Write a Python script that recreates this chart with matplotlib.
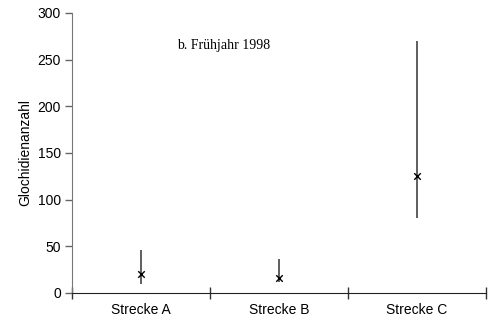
import numpy as np
import matplotlib
matplotlib.use("Agg")
import matplotlib.pyplot as plt

# data
strecken = ["Strecke A", "Strecke B", "Strecke C"]
mittel = [20, 16, 125]
minimum = [10, 12, 80]
maximum = [46, 36, 270]

params = {"font.family": "Liberation Sans", "font.size": 10}
matplotlib.rcParams.update(params)

fig = plt.figure(figsize=(4.93, 3.24), dpi=100)
ax = fig.add_axes([0.146, 0.096, 0.84, 0.864])

x = np.arange(len(strecken))
ax.vlines(x, minimum, maximum, colors="#333333", linewidth=1.1)
ax.scatter(x, mittel, marker="x", s=22, color="black", linewidths=1.0, zorder=3)

ax.set_xlim(-0.5, 2.5)
ax.set_ylim(0, 300)
ax.set_yticks(np.arange(0, 301, 50))
ax.set_ylabel("Glochidienanzahl", fontsize=10)

# category ticks sit between the groups, labels in the middle
ax.set_xticks([-0.5, 0.5, 1.5, 2.5])
ax.set_xticklabels([])
ax.set_xticks(x, minor=True)
ax.set_xticklabels(strecken, minor=True)
ax.tick_params(axis="x", which="major", direction="inout", length=8, width=1, color="#333333")
ax.tick_params(axis="x", which="minor", length=0, pad=7)
ax.tick_params(axis="y", direction="out", length=5, width=1, color="#666666", pad=3)

for s in ["top", "right"]:
    ax.spines[s].set_visible(False)
ax.spines["left"].set_color("#777777")
ax.spines["bottom"].set_color("#222222")

ax.text(0.6, 261, "b. Frühjahr 1998", family="Liberation Serif", fontsize=10, ha="center")

fig.savefig("out.png", dpi=100)
